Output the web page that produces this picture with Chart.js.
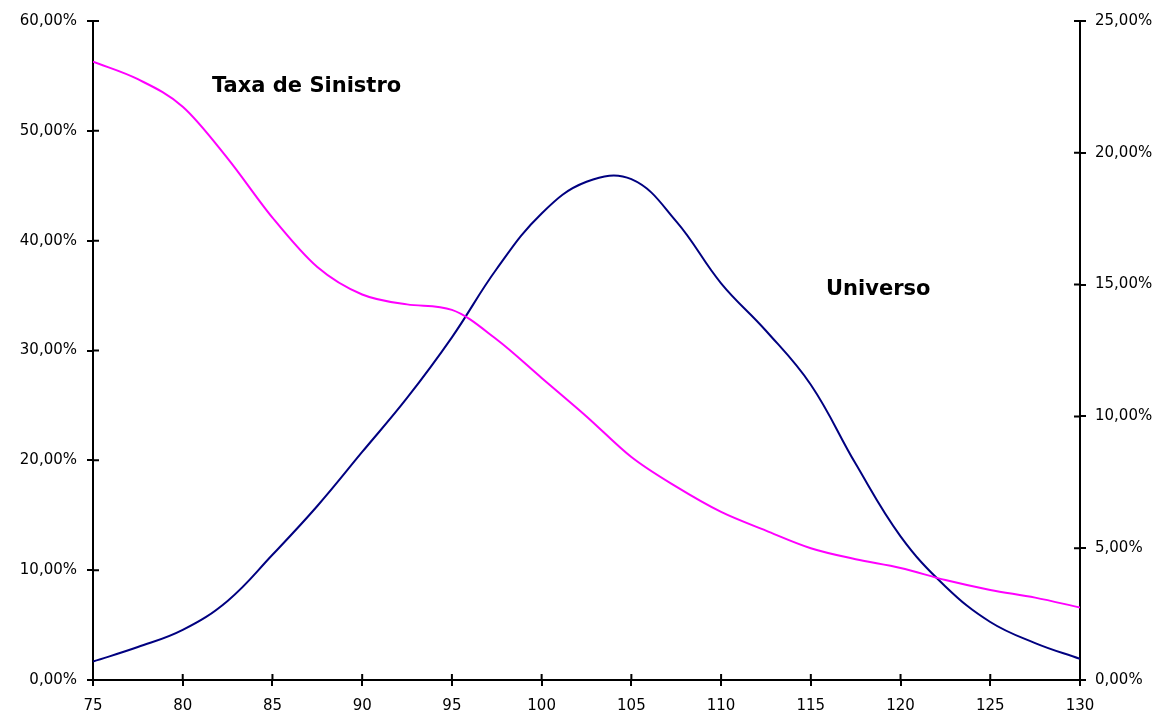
<!DOCTYPE html>
<html>
<head>
<meta charset="utf-8">
<script src="https://cdn.jsdelivr.net/npm/chart.js@4/dist/chart.umd.min.js"></script>
<style>
  html, body { margin: 0; padding: 0; background: #fff; }
  #wrap { width: 1162px; height: 718px; }
</style>
</head>
<body>
<div id="wrap"><canvas id="grafico"></canvas></div>
<script>
// valores
const idades = [75, 77.5, 80, 82.5, 85, 87.5, 90, 92.5, 95, 97.5, 100, 102.5, 105, 107.5, 110, 112.5, 115, 117.5, 120, 122.5, 125, 127.5, 130];
const taxaSinistro = [56.3, 54.7, 52.2, 47.5, 42.1, 37.6, 35.1, 34.2, 33.7, 31.0, 27.5, 24.0, 20.3, 17.6, 15.3, 13.6, 12.0, 11.0, 10.2, 9.1, 8.2, 7.5, 6.6];
const universo = [0.7, 1.25, 1.9, 3.0, 4.75, 6.6, 8.65, 10.7, 13.0, 15.6, 17.7, 18.9, 19.0, 17.4, 15.05, 13.25, 11.2, 8.2, 5.45, 3.55, 2.2, 1.4, 0.8];
const ticksEsq = [0, 10, 20, 30, 40, 50, 60];
const ticksDir = [0, 5, 10, 15, 20, 25];

const pct = v => v.toFixed(2).replace('.', ',') + '%';

// ticks que cruzam o eixo (parte de dentro)
const ticksDentro = {
  id: 'ticksDentro',
  afterDraw(chart) {
    const c = chart.ctx;
    const s = chart.scales;
    c.save();
    c.strokeStyle = '#000';
    c.lineWidth = 2;
    c.beginPath();
    s.y.ticks.forEach(t => {
      const py = s.y.getPixelForValue(t.value);
      c.moveTo(s.y.right, py); c.lineTo(s.y.right + 6, py);
    });
    s.y2.ticks.forEach(t => {
      const py = s.y2.getPixelForValue(t.value);
      c.moveTo(s.y2.left, py); c.lineTo(s.y2.left - 6, py);
    });
    s.x.ticks.forEach(t => {
      const px = s.x.getPixelForValue(t.value);
      c.moveTo(px, s.x.top); c.lineTo(px, s.x.top - 6);
    });
    c.stroke();
    c.restore();
  }
};

// rotulos das series
const rotulos = {
  id: 'rotulos',
  afterDatasetsDraw(chart) {
    const c = chart.ctx;
    const s = chart.scales;
    c.save();
    c.fillStyle = '#000';
    c.font = 'bold 21px "DejaVu Sans", Verdana, sans-serif';
    c.textBaseline = 'middle';
    c.textAlign = 'left';
    c.fillText('Taxa de Sinistro', s.x.getPixelForValue(81.63), s.y.getPixelForValue(54.0));
    c.fillText('Universo', s.x.getPixelForValue(115.85), s.y2.getPixelForValue(14.83));
    c.restore();
  }
};

const fonteEixo = { family: '"DejaVu Sans", Verdana, sans-serif', size: 15 };

new Chart(document.getElementById('grafico'), {
  type: 'line',
  data: {
    datasets: [
      {
        label: 'Taxa de Sinistro',
        data: idades.map((x, i) => ({ x: x, y: taxaSinistro[i] })),
        borderColor: '#ff00ff',
        borderWidth: 2,
        pointRadius: 0,
        cubicInterpolationMode: 'monotone',
        yAxisID: 'y'
      },
      {
        label: 'Universo',
        data: idades.map((x, i) => ({ x: x, y: universo[i] })),
        borderColor: '#000080',
        borderWidth: 2,
        pointRadius: 0,
        tension: 0.4,
        yAxisID: 'y2'
      }
    ]
  },
  options: {
    responsive: true,
    maintainAspectRatio: false,
    animation: false,
    layout: { padding: { top: 21, left: 0, right: 0, bottom: 0 } },
    plugins: {
      legend: { display: false },
      tooltip: { enabled: false }
    },
    scales: {
      x: {
        type: 'linear',
        min: 75,
        max: 130,
        afterBuildTicks: sc => { sc.ticks = idades.filter(v => v % 5 === 0).map(v => ({ value: v })); },
        afterFit: sc => { sc.height = 38; },
        border: { color: '#000', width: 2 },
        grid: { drawOnChartArea: false, color: '#000', lineWidth: 2, tickLength: 6 },
        ticks: { color: '#000', font: fonteEixo, padding: 11, maxRotation: 0, callback: v => v }
      },
      y: {
        position: 'left',
        min: 0,
        max: 60,
        afterBuildTicks: sc => { sc.ticks = ticksEsq.map(v => ({ value: v })); },
        afterFit: sc => { sc.width = 93; },
        border: { color: '#000', width: 2 },
        grid: { drawOnChartArea: false, color: '#000', lineWidth: 2, tickLength: 6 },
        ticks: { color: '#000', font: fonteEixo, padding: 10, callback: v => pct(v) }
      },
      y2: {
        position: 'right',
        min: 0,
        max: 25,
        afterBuildTicks: sc => { sc.ticks = ticksDir.map(v => ({ value: v })); },
        afterFit: sc => { sc.width = 82; },
        border: { color: '#000', width: 2 },
        grid: { drawOnChartArea: false, color: '#000', lineWidth: 2, tickLength: 6 },
        ticks: { color: '#000', font: fonteEixo, padding: 9, callback: v => pct(v) }
      }
    }
  },
  plugins: [ticksDentro, rotulos]
});
</script>
</body>
</html>
